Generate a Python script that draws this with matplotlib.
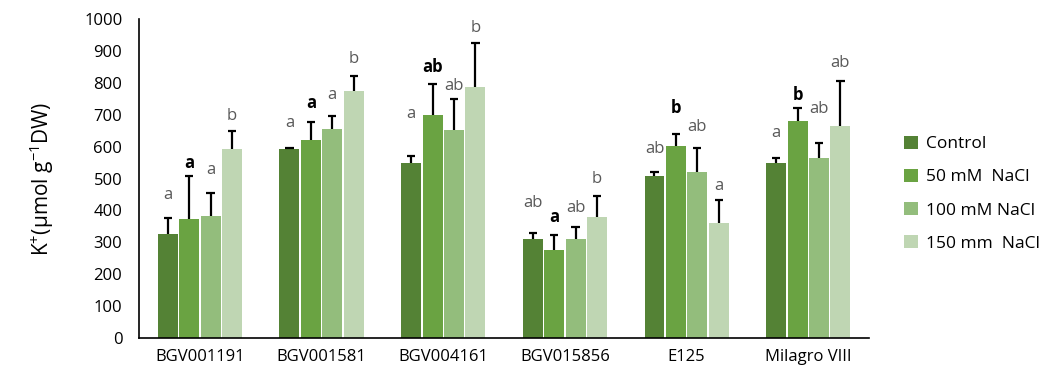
import matplotlib
matplotlib.use("Agg")
import matplotlib.pyplot as plt
import numpy as np

plt.rcParams['font.family'] = ['Open Sans', 'DejaVu Sans']
plt.rcParams['mathtext.fontset'] = 'custom'
plt.rcParams['mathtext.rm'] = 'Open Sans'
plt.rcParams['mathtext.it'] = 'Open Sans'

categories = ["BGV001191", "BGV001581", "BGV004161", "BGV015856", "E125", "Milagro VIII"]
series_names = ["Control", "50 mM  NaCl", "100 mM NaCl", "150 mm  NaCl"]

control = [325, 592, 550, 309, 507, 550]
nacl50 = [372, 620, 698, 277, 601, 679]
nacl100 = [382, 655, 652, 309, 519, 563]
nacl150 = [592, 774, 786, 378, 359, 664]

err_control = [51, 5, 20, 19, 13, 15]
err_50 = [135, 57, 98, 46, 37, 43]
err_100 = [73, 41, 96, 39, 76, 49]
err_150 = [56, 48, 138, 68, 73, 141]

letters_control = ["a", "a", "a", "ab", "ab", "a"]
letters_50 = ["a", "a", "ab", "a", "b", "b"]
letters_100 = ["a", "a", "ab", "ab", "ab", "ab"]
letters_150 = ["b", "b", "b", "b", "a", "ab"]

letter_y_control = [447, 675, 701, 422, 592, 643]
letter_y_50 = [549, 737, 848, 378, 722, 763]
letter_y_100 = [528, 762, 790, 409, 661, 717]
letter_y_150 = [697, 876, 972, 498, 478, 861]

colors = ["#548235", "#6aa342", "#93bd7c", "#bfd6b3"]

values = [control, nacl50, nacl100, nacl150]
errors = [err_control, err_50, err_100, err_150]
letters = [letters_control, letters_50, letters_100, letters_150]
letter_ys = [letter_y_control, letter_y_50, letter_y_100, letter_y_150]
letter_colors = ["#595959", "#000000", "#595959", "#595959"]
letter_weights = ["normal", "bold", "normal", "normal"]

fig = plt.figure(figsize=(10.43, 3.69), dpi=100)
ax = fig.add_axes([0.1333, 0.084, 0.700, 0.8645])

x = np.arange(len(categories))
slot = 0.176
bw = 0.164
cap = 0.034
for i in range(4):
    pos = x + (i - 1.5) * slot
    ax.bar(pos, values[i], width=bw, color=colors[i], label=series_names[i], zorder=2)
    tops = np.array(values[i]) + np.array(errors[i])
    ax.vlines(pos, values[i], tops, color='black', linewidth=1.6, zorder=3)
    ax.hlines(tops, pos - cap, pos + cap, color='black', linewidth=1.6, zorder=3)
    for j in range(len(categories)):
        ax.text(pos[j], letter_ys[i][j], letters[i][j], ha='center', va='center',
                fontsize=12, color=letter_colors[i], fontweight=letter_weights[i])

ax.set_xlim(-0.5, 5.5)
ax.set_ylim(0, 1000)
ax.set_yticks(np.arange(0, 1001, 100))
ax.set_xticks(x)
ax.set_xticklabels(categories, fontsize=12)
ax.tick_params(axis='y', length=0, labelsize=12, pad=12)
ax.tick_params(axis='x', length=0, labelsize=12, pad=8)
for s in ['top', 'right']:
    ax.spines[s].set_visible(False)
ax.spines['left'].set_linewidth(1.2)
ax.spines['bottom'].set_linewidth(1.2)

ax.set_ylabel('K$^{+}$(µmol g$^{-1}$DW)', fontsize=15, labelpad=20)

leg = fig.legend(loc='upper left', bbox_to_anchor=(0.852, 0.675), frameon=False,
                 fontsize=12.5, handlelength=0.8, handleheight=0.8, handletextpad=0.45,
                 labelspacing=0.95)

fig.savefig("out.png", dpi=100)
